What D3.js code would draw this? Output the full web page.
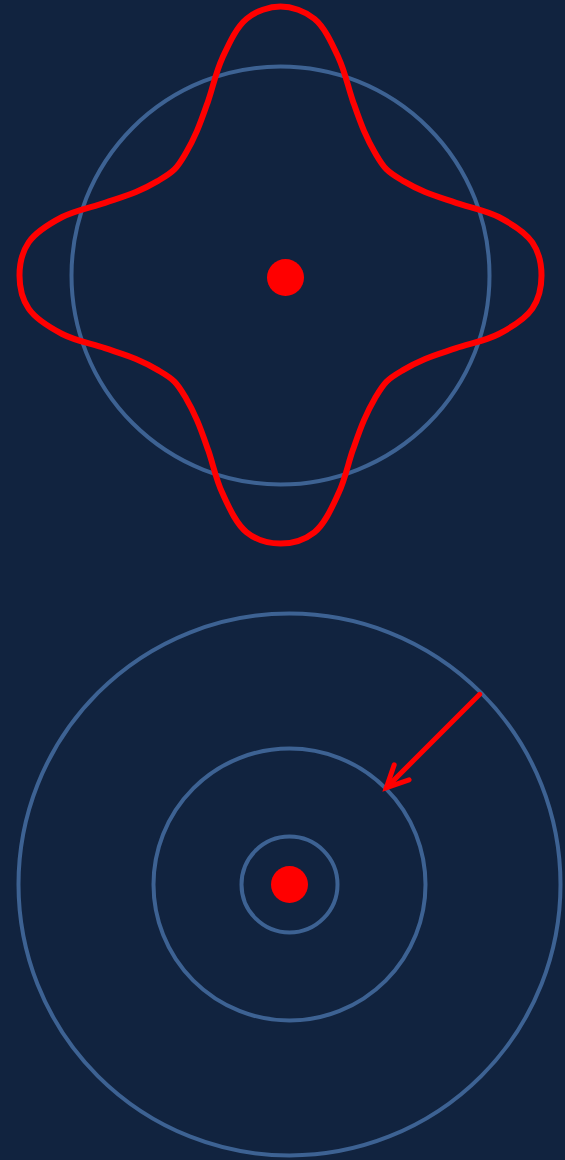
<!DOCTYPE html>
<html>
<head>
<meta charset="utf-8">
<script src="https://cdn.jsdelivr.net/npm/d3@7"></script>
<style>
  html, body { margin: 0; padding: 0; background: #11233f; }
  svg { display: block; }
</style>
</head>
<body>
<div id="chart"></div>
<script>
// top figure: wavy red outline, radius read every 7.5 deg (clockwise from 12 o'clock)
var blobAngles = d3.range(0, 360, 7.5);
var blobRadii = [
  269, 259, 225, 189, 167, 155, 150, 155, 167, 190, 226, 254,
  261, 254, 226, 190, 167, 155, 150, 155, 167, 189, 225, 259,
  268, 259, 225, 189, 167, 155, 150, 155, 167, 190, 226, 254,
  261, 254, 226, 190, 167, 155, 150, 155, 167, 189, 225, 259
];
var topCircleRadius = 209;
var topDotOffset = [5, 2];

// bottom figure: concentric rings and the arrow between the two outer rings
var ringRadii = [271, 136, 48];
var arrowAngle = 45;      // degrees, clockwise from 12 o'clock
var arrowFrom = 0, arrowTo = 1;   // ring index
var dotRadius = 18.5;

document.addEventListener("DOMContentLoaded", function () {
  const W = 565, H = 1160,
    blue = "#3d6293",
    red = "#ff0000",
    topCenter = { x: 280.5, y: 275.5 },
    botCenter = { x: 289.5, y: 884.5 };

  var svg = d3.select("#chart").append("svg")
    .attr("width", W)
    .attr("height", H);

  svg.append("rect")
    .attr("width", W)
    .attr("height", H)
    .attr("fill", "#11233f");

  // same pixel units for both figures
  var r = d3.scaleLinear().domain([0, 300]).range([0, 300]);
  var toRad = d3.scaleLinear().domain([0, 360]).range([0, 2 * Math.PI]);

  // ---- top figure
  var top = svg.append("g")
    .attr("transform", "translate(" + topCenter.x + "," + topCenter.y + ")");

  top.append("circle")
    .attr("r", r(topCircleRadius))
    .attr("fill", "none")
    .attr("stroke", blue)
    .attr("stroke-width", 4);

  var radial = d3.lineRadial()
    .angle((d, i) => toRad(blobAngles[i]))
    .radius(d => r(d))
    .curve(d3.curveCatmullRomClosed.alpha(0.5));

  top.append("path")
    .attr("d", radial(blobRadii))
    .attr("fill", "none")
    .attr("stroke", red)
    .attr("stroke-width", 6);

  top.append("circle")
    .attr("cx", topDotOffset[0])
    .attr("cy", topDotOffset[1])
    .attr("r", r(dotRadius))
    .attr("fill", red);

  // ---- bottom figure
  var bot = svg.append("g")
    .attr("transform", "translate(" + botCenter.x + "," + botCenter.y + ")");

  bot.selectAll(".ring")
    .data(ringRadii)
    .enter().append("circle")
    .attr("class", "ring")
    .attr("r", d => r(d))
    .attr("fill", "none")
    .attr("stroke", blue)
    .attr("stroke-width", 4);

  bot.append("circle")
    .attr("r", r(dotRadius))
    .attr("fill", red);

  // arrow, pointing inward
  var a = toRad(arrowAngle);
  var polar = (rad, ang) => [Math.sin(ang) * r(rad), -Math.cos(ang) * r(rad)];
  var p0 = polar(ringRadii[arrowFrom] - 2, a),
    p1 = polar(ringRadii[arrowTo] + 1, a);
  var back = Math.atan2(p0[1] - p1[1], p0[0] - p1[0]),
    headLen = 24, headSpread = toRad(26);
  var h1 = [p1[0] + headLen * Math.cos(back - headSpread), p1[1] + headLen * Math.sin(back - headSpread)],
    h2 = [p1[0] + headLen * Math.cos(back + headSpread), p1[1] + headLen * Math.sin(back + headSpread)];

  var line = d3.line();
  bot.append("path")
    .attr("d", line([p0, p1]))
    .attr("fill", "none")
    .attr("stroke", red)
    .attr("stroke-width", 5)
    .attr("stroke-linecap", "round");

  bot.append("path")
    .attr("d", line([h1, p1, h2]))
    .attr("fill", "none")
    .attr("stroke", red)
    .attr("stroke-width", 5)
    .attr("stroke-linecap", "round")
    .attr("stroke-linejoin", "miter");
});
</script>
</body>
</html>
